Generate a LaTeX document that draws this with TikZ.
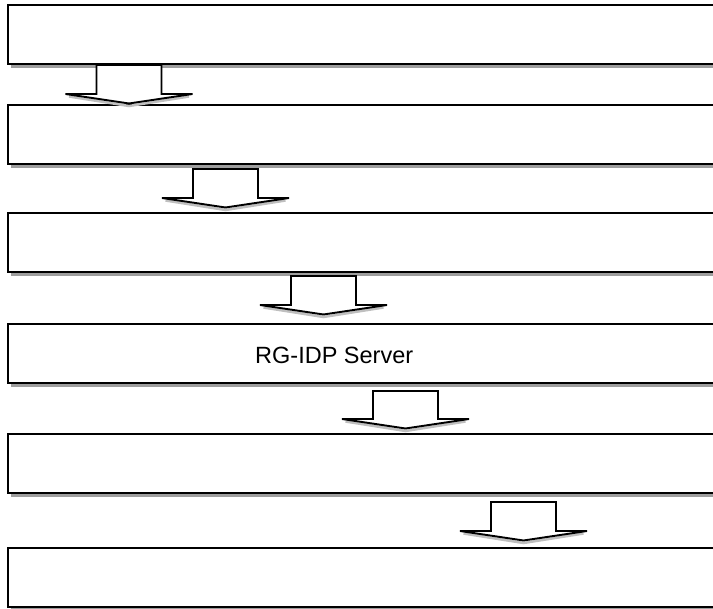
\documentclass[tikz,border=0pt]{standalone}
\usepackage{fontspec}
\setmainfont{Liberation Sans}
\usetikzlibrary{shadows}
\newcommand\blockarr[3]{% centre x, stem top y, barb y
  \draw[headshadow] ({#1-60},{#3+2.5}) -- ({#1},{#3+12}) -- ({#1+60},{#3+2.5});
  \draw[arrline] ({#1-32.5},#2) -- ({#1-32.5},#3) -- ({#1-63.5},#3) -- ({#1},{#3+9.5})
     -- ({#1+63.5},#3) -- ({#1+32.5},#3) -- ({#1+32.5},#2) -- cycle;
}
\begin{document}
\begin{tikzpicture}[x=1pt,y=-1pt,
  box/.style={draw=black, line width=1.9pt, fill=white, minimum width=720pt,
    minimum height=59pt, inner sep=0pt, anchor=north west,
    drop shadow={shadow xshift=3.5pt, shadow yshift=-4pt, opacity=1, fill=black!38}},
  arrline/.style={draw=black, line width=1.9pt, fill=white, line join=miter},
  headshadow/.style={draw=black!25, line width=2.5pt},
  label/.style={anchor=base west, inner sep=0pt, font=\fontsize{23.5}{28}\selectfont}]
\useasboundingbox (0,0) rectangle (713,609);
\clip (0,0) rectangle (713,609);
\node[box] (b1) at (7,4) {};
\node[box] (b2) at (7,104) {};
\node[box] (b3) at (7,212) {};
\node[box] (b4) at (7,323) {};
\node[box] (b5) at (7,433) {};
\node[box] (b6) at (7,547) {};
\node[label] (t4) at (255,364) {RG-IDP Server};
\blockarr{129}{65}{94}
\blockarr{225.5}{169}{198}
\blockarr{323.5}{276}{305}
\blockarr{405.5}{391}{419}
\blockarr{523.5}{502}{531}
\end{tikzpicture}
\end{document}
